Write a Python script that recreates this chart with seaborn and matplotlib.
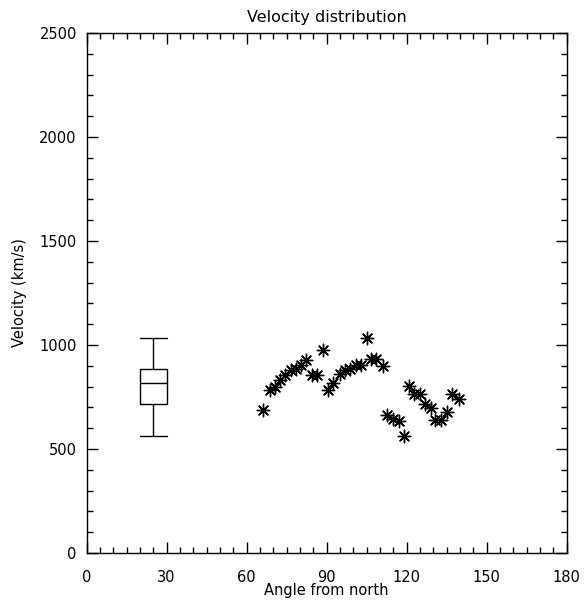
import numpy as np
import pandas as pd
import matplotlib
matplotlib.use("Agg")
import matplotlib.pyplot as plt
import seaborn as sns
from matplotlib.ticker import MultipleLocator

# Angle from north (deg) and velocity (km/s) of each event
angle = [66.3, 68.8, 70.5, 72.5, 74.4, 76.5, 78.4, 80.3, 82.3, 84.6,
         86.5, 88.6, 90.6, 92.5, 94.9, 96.8, 98.8, 100.9, 102.8, 105.0,
         106.6, 108.6, 111.0, 112.7, 115.0, 117.1, 119.0, 120.9, 122.8, 125.0,
         127.1, 129.2, 130.8, 133.0, 135.2, 137.1, 139.6]
velocity = [689, 782, 798, 830, 857, 881, 886, 905, 926, 858,
            858, 976, 782, 817, 862, 878, 886, 902, 902, 1036,
            934, 932, 897, 662, 646, 635, 562, 801, 763, 763,
            715, 699, 638, 638, 678, 763, 742]
box_angle = 25  # where the summary box is drawn

df = pd.DataFrame({"angle": angle, "velocity": velocity})

sns.set_style("white")
plt.rcParams["font.family"] = ["DejaVu Sans"]
plt.rcParams["text.color"] = "black"
plt.rcParams["axes.labelcolor"] = "black"
plt.rcParams["xtick.color"] = "black"
plt.rcParams["ytick.color"] = "black"

fig = plt.figure(figsize=(5.87, 6.00), dpi=100)
ax = fig.add_axes([0.1474, 0.0783, 0.8177, 0.8667])

# box-and-whisker of all velocities, whiskers at min / max
sns.boxplot(x=np.full(len(velocity), box_angle), y=df["velocity"], ax=ax,
            native_scale=True, width=10, whis=(0, 100), fill=False,
            color="black", linewidth=1.0, capwidths=10, showfliers=False)

sns.scatterplot(data=df, x="angle", y="velocity", ax=ax, marker=(8, 2, 0),
                s=80, color="black", edgecolor="black", linewidth=1.0)

ax.set_xlim(0, 180)
ax.set_ylim(0, 2500)
ax.xaxis.set_major_locator(MultipleLocator(30))
ax.xaxis.set_minor_locator(MultipleLocator(5))
ax.yaxis.set_major_locator(MultipleLocator(500))
ax.yaxis.set_minor_locator(MultipleLocator(100))
ax.tick_params(which="both", direction="in", top=True, right=True,
               bottom=True, left=True, color="black", labelcolor="black",
               width=1.0, labelsize=10.5)
ax.tick_params(axis="x", which="both", pad=12)
ax.tick_params(axis="y", which="both", pad=7)
ax.tick_params(which="major", length=8)
ax.tick_params(which="minor", length=4)
for s in ax.spines.values():
    s.set_color("black")
    s.set_linewidth(1.0)

ax.set_title("Velocity distribution", fontsize=11.5, pad=8)
ax.set_xlabel("Angle from north", fontsize=10.5, labelpad=-1)
ax.set_ylabel("Velocity (km/s)", fontsize=10.5, labelpad=9)

fig.savefig("out.png", dpi=100)
